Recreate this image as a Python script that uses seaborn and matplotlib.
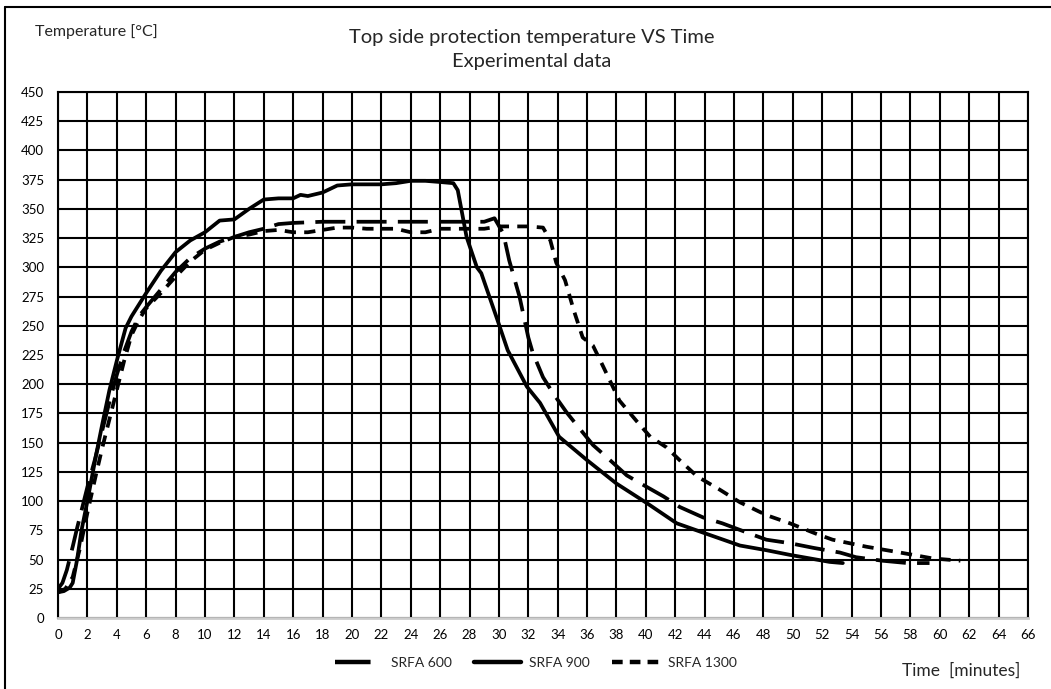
import matplotlib
matplotlib.use("Agg")
import matplotlib.pyplot as plt
from matplotlib.lines import Line2D
import seaborn as sns
import pandas as pd
import numpy as np

# ---- data ----
t_600 = [0, 0.3, 0.6, 1.0, 1.3, 1.6, 2.0, 2.5, 3.0, 3.5, 4.0, 4.5, 5.0, 5.5, 6.0, 7, 8, 9, 10, 11,
         12, 13, 14, 15, 16, 18, 20, 22, 24, 26, 28, 29, 29.7, 30.3, 30.7, 31.4, 32.0, 32.3, 33.0,
         33.7, 34.6, 35.3, 36.4, 37.3, 38.7, 39.8, 41.2, 42.3, 43.9, 45.2, 46.9, 48.2, 49.8, 51.4,
         53.2, 54.3, 56.1, 57.8, 59.3]
T_600 = [25, 30, 41, 61, 77, 92, 112, 135, 160, 185, 208, 228, 245, 258, 266, 281, 296, 308, 316, 322,
         326, 330, 333, 337, 338, 339, 339, 339, 339, 339, 339, 339, 342, 329, 306, 275, 240, 227, 206,
         192, 176, 165, 148, 138, 122, 114, 104, 95, 86, 81, 73, 67, 64, 60,
         56, 52, 49, 47, 47]

t_900 = [0, 0.4, 0.8, 1.0, 1.3, 1.6, 2.0, 2.6, 3.0, 3.5, 4.0, 4.6, 5.0, 5.5, 6, 7, 8, 9, 10, 11,
         12, 13, 14, 15, 16, 16.5, 17, 18, 19, 20, 22, 23, 24, 25, 26, 26.9, 27.2, 27.8, 28.5, 28.8,
         29.9, 30.6, 31.9, 32.8, 34.1, 36.0, 38.0, 40.1, 42.1, 43.9, 46.4, 48.2, 49.8, 52.5, 53.4]
T_900 = [22, 23, 26, 30, 50, 75, 100, 140, 165, 195, 220, 248, 258, 268, 278, 297, 313, 323, 330, 340,
         341, 350, 358, 359, 359, 362, 361, 364, 370, 371, 371, 372, 374, 374, 373, 372, 366, 326, 300, 295,
         255, 229, 198, 184, 155, 135, 115, 98, 81, 73, 62, 58, 54, 48, 47]

t_1300 = [0, 0.5, 1.0, 1.5, 2.0, 2.5, 3.0, 3.5, 4.0, 4.5, 5.0, 5.5, 6.0, 7, 8, 9, 10, 11, 12, 13,
          14, 15, 16, 17, 18, 19, 20, 21, 22, 23, 24, 25, 26, 27, 28, 29, 30, 31, 32, 33.0,
          33.5, 33.9, 34.5, 35.1, 35.7, 36.4, 37.1, 38.2, 39.4, 40.3, 41.4, 42.3, 43.5, 45.0, 46.4,
          48.2, 49.8, 51.6, 52.7, 55.0, 57.3, 59.5, 61.4]
T_1300 = [22, 25, 35, 60, 90, 118, 145, 170, 195, 220, 242, 255, 265, 278, 292, 305, 315, 321, 326, 328,
          331, 332, 330, 330, 332, 334, 334, 333, 333, 333, 330, 330, 333, 333, 333, 333, 335, 335, 335, 334,
          323, 304, 289, 263, 240, 233, 215, 186, 168, 155, 146, 135, 121, 110, 99,
          88, 81, 72, 67, 61, 56, 51, 49]

series_names = ["SRFA 600", "SRFA 900", "SRFA 1300"]
x_ticks = list(range(0, 67, 2))
y_ticks = list(range(0, 451, 25))

df = pd.concat([
    pd.DataFrame({"t": t_600, "T": T_600, "series": series_names[0]}),
    pd.DataFrame({"t": t_900, "T": T_900, "series": series_names[1]}),
    pd.DataFrame({"t": t_1300, "T": T_1300, "series": series_names[2]}),
], ignore_index=True)

sns.set_style("white")
plt.rcParams["font.family"] = ["Lato", "DejaVu Sans"]

fig = plt.figure(figsize=(10.51, 6.89), dpi=100)
ax = fig.add_axes([58 / 1051, 1 - 618 / 689, 970 / 1051, 526 / 689])

dashes = {series_names[0]: (8, 3), series_names[1]: "", series_names[2]: (3, 2.2)}
sns.lineplot(data=df, x="t", y="T", hue="series", style="series",
             palette=["black"] * 3, dashes=dashes, estimator=None, sort=False,
             linewidth=2.7, ax=ax, legend=False)

ax.set_xlim(0, 66)
ax.set_ylim(0, 450)
ax.set_xticks(x_ticks)
ax.set_yticks(y_ticks)
ax.tick_params(axis="both", length=0, labelsize=9.5, colors="black")
ax.tick_params(axis="x", pad=8)
ax.tick_params(axis="y", pad=10)
ax.grid(True, color="black", linewidth=1.5)
ax.set_axisbelow(True)
ax.set_xlabel("")
ax.set_ylabel("")
for s in ["left", "top", "right"]:
    ax.spines[s].set_color("black")
    ax.spines[s].set_linewidth(1.5)
ax.spines["bottom"].set_color("#cccccc")
ax.spines["bottom"].set_linewidth(2)

fig.text(532 / 1051, 1 - 37 / 689, "Top side protection temperature VS Time",
         ha="center", va="center", fontsize=14.5)
fig.text(532 / 1051, 1 - 62 / 689, "Experimental data",
         ha="center", va="center", fontsize=14.5)
fig.text(35 / 1051, 1 - 32 / 689, "Temperature [°C]", ha="left", va="center", fontsize=11.5)
fig.text(1020 / 1051, 1 - 671 / 689, "Time  [minutes]", ha="right", va="center", fontsize=12.5)

handles = [Line2D([], [], color="black", linewidth=3.2, dashes=(8, 3)),
           Line2D([], [], color="black", linewidth=3.2),
           Line2D([], [], color="black", linewidth=3.2, dashes=(2.4, 1.6))]
fig.legend(handles, series_names, loc="center", bbox_to_anchor=(0.51, 1 - 663 / 689),
           ncol=3, frameon=False, fontsize=10, handlelength=3.4, columnspacing=1.6,
           handletextpad=0.6)

# outer frame (top and left edges visible in reference)
fig.add_artist(Line2D([5 / 1051, 5 / 1051], [0, 1 - 7 / 689], color="black", linewidth=1.5,
                      transform=fig.transFigure))
fig.add_artist(Line2D([5 / 1051, 1], [1 - 7 / 689, 1 - 7 / 689], color="black", linewidth=1.5,
                      transform=fig.transFigure))

fig.savefig("out.png", dpi=100)
